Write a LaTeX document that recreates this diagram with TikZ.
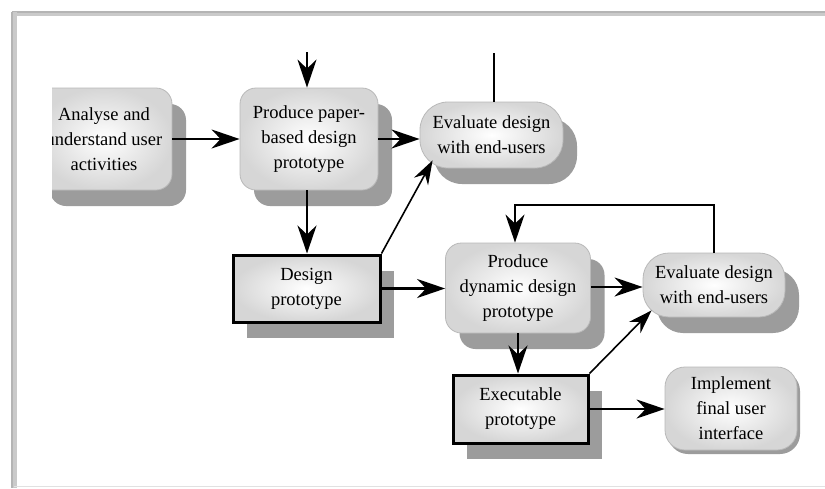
\documentclass[tikz,border=0pt]{standalone}
\usepackage{fontspec}
\setmainfont{Liberation Serif}
\usetikzlibrary{arrows.meta,shadows,calc}
\definecolor{shadowgray}{HTML}{9C9C9C}
\definecolor{framegray}{HTML}{B4B4B4}
\tikzset{
  boxtext/.style={align=center,font=\fontsize{18.5}{25}\selectfont,text=black},
  softfill/.style={inner color=white,outer color=gray!32},
  dropshade/.style={general shadow={fill=shadowgray,shadow xshift=14pt,shadow yshift=-16pt}},
  roundbox/.style={boxtext,softfill,draw=gray!55,line width=0.8pt,rounded corners=16pt,inner sep=0pt},
  activity/.style={roundbox,dropshade},
  pill/.style={activity,rounded corners=28pt},
  artefact/.style={boxtext,softfill,dropshade,draw=black,line width=3pt,inner sep=0pt},
  arr/.style={line width=2.6pt,-{Stealth[length=28pt,width=19pt,inset=9pt]}},
  thinarr/.style={line width=1.6pt,-{Stealth[length=24pt,width=16pt,inset=8pt]}},
}
\begin{document}
\begin{tikzpicture}[x=1pt,y=-1pt]
\useasboundingbox (0,0) rectangle (825,488);
\fill[white] (0,0) rectangle (825,488);
% page frame
\draw[framegray!70,line width=4pt] (16,14) -- (825,14);
\draw[framegray,line width=2pt] (12,12) -- (825,12);
\draw[framegray!70,line width=4pt] (15,12) -- (15,488);
\draw[framegray,line width=2pt] (12,12) -- (12,488);
\draw[framegray!40,line width=1.5pt] (14,486.5) -- (825,486.5);

% first activity, cut off by the left margin of the page
\begin{scope}
  \clip (52,0) rectangle (825,488);
  \node[activity,minimum width=136pt,minimum height=102pt] (analyse) at (104,139)
    {Analyse and\\understand user\\activities};
\end{scope}

\node[activity,minimum width=138pt,minimum height=102pt] (paper) at (309,139)
  {Produce paper-\\based design\\prototype};
\node[pill,minimum width=143pt,minimum height=66pt] (eval1) at (491.5,135)
  {Evaluate design\\with end-users};
\node[artefact,minimum width=147pt,minimum height=67pt] (design) at (306.5,288.5)
  {Design\\prototype};
\node[activity,minimum width=145pt,minimum height=90pt] (dynamic) at (518,288)
  {Produce\\dynamic design\\prototype};
\node[pill,minimum width=142pt,minimum height=64pt,rounded corners=26pt] (eval2) at (714,285)
  {Evaluate design\\with end-users};
\node[artefact,minimum width=135pt,minimum height=68pt] (exec) at (520.5,409)
  {Executable\\prototype};
\node[roundbox,minimum width=132pt,minimum height=83pt,rounded corners=20pt,
      general shadow={fill=shadowgray,shadow xshift=3pt,shadow yshift=-4pt}] (impl) at (731,408.5)
  {Implement\\final user\\interface};

% free ends of the flows entering and leaving the page
\coordinate (feedin) at (307,52);
\coordinate (feedout) at (494,53);
\coordinate (loopback) at (515,205);

% connectors
\draw[arr] (analyse.east) -- (paper.west);
\draw[arr] (feedin) -- (feedin |- paper.north);
\draw[line width=2.6pt] (feedout |- eval1.north) -- (feedout);
\draw[arr] (paper.east) -- (paper.east -| eval1.west);
\draw[arr] (feedin |- paper.south) -- (feedin |- design.north);
\draw[thinarr] (design.north east) -- ($(eval1.south west)+(13,-8)$);
\draw[arr] (design.east) -- (design.east -| dynamic.west);
\draw[arr] ($(dynamic.east)+(0,-1)$) -- ($(eval2.west)+(0,2)$);
\draw[arr] (eval2.north) -- (eval2.north |- loopback) -- (loopback) -- (loopback |- dynamic.north);
\draw[arr] (dynamic.south) -- (dynamic.south |- exec.north);
\draw[thinarr] (exec.north east) -- ($(eval2.south west)+(9,-7)$);
\draw[arr] (exec.east) -- (exec.east -| impl.west);
\end{tikzpicture}
\end{document}
